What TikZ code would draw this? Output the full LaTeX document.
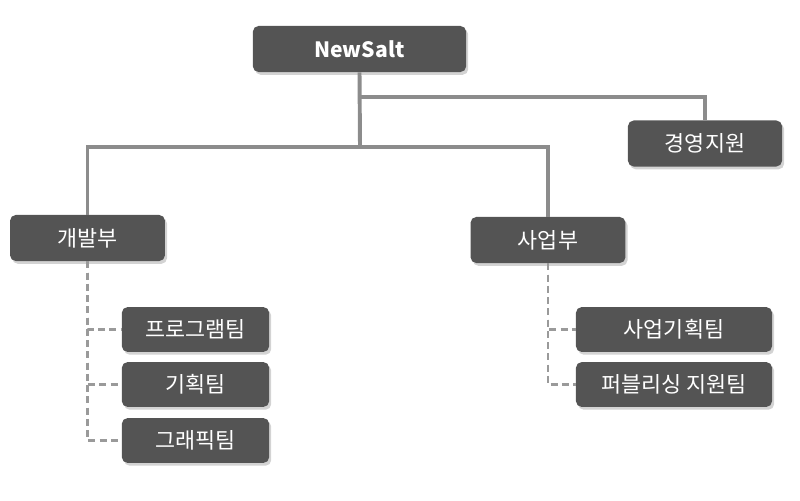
\documentclass[tikz,border=0pt]{standalone}
\usepackage{fontspec}
\setmainfont{Noto Sans CJK KR}
\usepackage{xcolor}
\usetikzlibrary{positioning,shadows}
\definecolor{boxgray}{HTML}{545454}
\definecolor{linegray}{HTML}{8C8C8C}
\definecolor{dashgray}{HTML}{9A9A9A}
\tikzset{
unit/.style={fill=boxgray, rounded corners=4pt, text=white, inner sep=0pt,
  minimum height=1.15cm, font=\fontsize{15.5}{17}\selectfont,
  drop shadow={opacity=0.35, shadow xshift=1.5pt, shadow yshift=-2pt}},
dept/.style={unit, minimum width=3.87cm},
team/.style={unit, minimum height=1.12cm, minimum width=#1},
trunk/.style={draw=linegray, line width=2.8pt},
branch/.style={draw=dashgray, line width=2pt, dash pattern=on 5pt off 3pt}
}

\begin{document}
\begin{tikzpicture}[x=0.025cm, y=-0.025cm]
\useasboundingbox (0,0) rectangle (800,500);
\coordinate (split) at (360,97);
\coordinate (hub) at (360,147);

\node[unit, minimum width=5.33cm, font=\fontsize{15}{17}\selectfont\bfseries] (ceo) at (359.5,49) {NewSalt};
\node[dept, minimum width=3.85cm] (mgmt) at (705,143.5) {경영지원};
\node[dept] (dev) at (87.5,238) {개발부};
\node[dept] (biz) at (548,240) {사업부};

\node[team=3.68cm] (prog) at (195.5,329.5) {프로그램팀};
\node[team=3.68cm] (plan) at (195.5,384.5) {기획팀};
\node[team=3.68cm] (gfx) at (195.5,440.5) {그래픽팀};
\node[team=4.9cm] (bplan) at (674,329.5) {사업기획팀};
\node[team=4.9cm] (pub) at (674,384.5) {퍼블리싱 지원팀};

\draw[trunk] (ceo.south) -- (hub);
\draw[trunk] (split) -| (mgmt.north);
\draw[trunk] (dev.north) |- (hub) -| (biz.north);
\foreach \t in {prog, plan, gfx}{
	\draw[branch] (dev.south) |- (\t.west);
}
\foreach \t in {bplan, pub}{
	\draw[branch] (biz.south) |- (\t.west);
}
\end{tikzpicture}
\end{document}
